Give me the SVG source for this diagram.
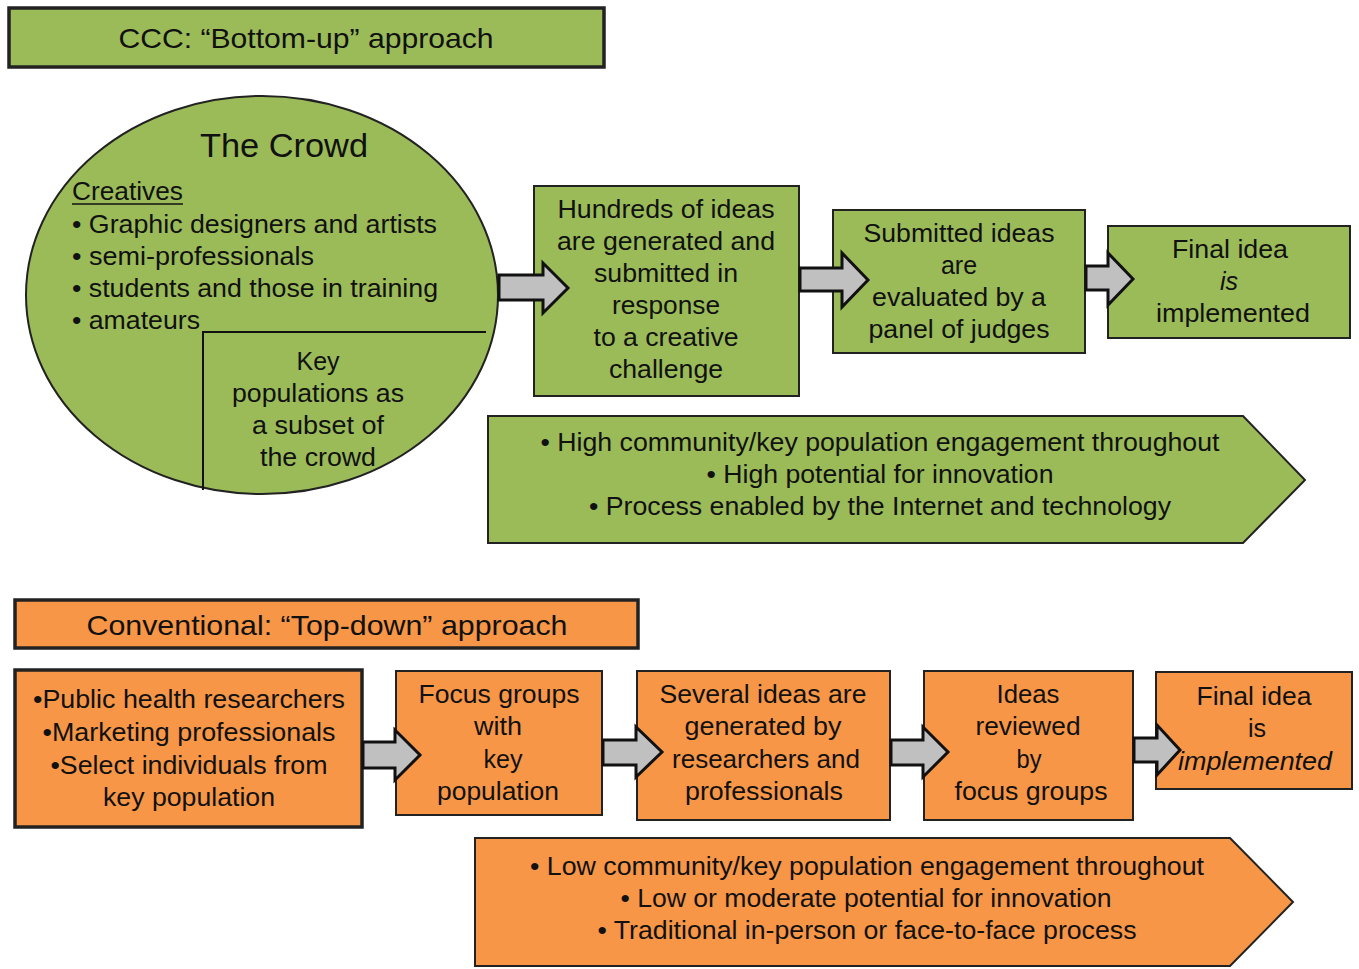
<svg xmlns="http://www.w3.org/2000/svg" width="1359" height="969" viewBox="0 0 1359 969">
<style>
text{font-family:"Liberation Sans",Arial,sans-serif;fill:#111;}
.t{font-size:25px;text-anchor:middle;}
.l{font-size:25px;}
.title{font-size:28px;text-anchor:middle;}
.g{fill:#9BBB59;stroke:#222;stroke-width:2;}
.o{fill:#F79646;stroke:#222;stroke-width:2;}
.hb{stroke-width:3.5;}
.arr{fill:#C0C0C0;stroke:#111;stroke-width:3;stroke-linejoin:miter;}
</style>
<rect width="1359" height="969" fill="#fff"/>

<g id="title-ccc">
<rect class="g hb" x="9" y="8" width="595" height="59"/>
<text class="title" x="306" y="48" textLength="375" lengthAdjust="spacingAndGlyphs">CCC: “Bottom-up” approach</text>
</g>

<g id="crowd">
<ellipse class="g" cx="262" cy="295" rx="236" ry="199" stroke-width="2.5"/>
<text x="284" y="157" font-size="33" text-anchor="middle" textLength="168" lengthAdjust="spacingAndGlyphs">The Crowd</text>
<text class="l" x="72" y="200" textLength="111" lengthAdjust="spacingAndGlyphs">Creatives</text>
<line x1="72" y1="204" x2="183" y2="204" stroke="#111" stroke-width="1.5"/>
<text class="l" x="72" y="233" textLength="365" lengthAdjust="spacingAndGlyphs">• Graphic designers and artists</text>
<text class="l" x="72" y="265" textLength="242" lengthAdjust="spacingAndGlyphs">• semi-professionals</text>
<text class="l" x="72" y="297" textLength="366" lengthAdjust="spacingAndGlyphs">• students and those in training</text>
<text class="l" x="72" y="329" textLength="128" lengthAdjust="spacingAndGlyphs">• amateurs</text>
<path d="M486 332 H203 V490" fill="none" stroke="#111" stroke-width="2"/>
<text class="t" x="318" y="370">Key</text>
<text class="t" x="318" y="402" textLength="172" lengthAdjust="spacingAndGlyphs">populations as</text>
<text class="t" x="318" y="434" textLength="132" lengthAdjust="spacingAndGlyphs">a subset of</text>
<text class="t" x="318" y="466" textLength="116" lengthAdjust="spacingAndGlyphs">the crowd</text>
</g>

<g id="hundreds">
<rect class="g" x="534" y="186" width="265" height="210"/>
<text class="t" x="666" y="218" textLength="217" lengthAdjust="spacingAndGlyphs">Hundreds of ideas</text>
<text class="t" x="666" y="250" textLength="218" lengthAdjust="spacingAndGlyphs">are generated and</text>
<text class="t" x="666" y="282" textLength="144" lengthAdjust="spacingAndGlyphs">submitted in</text>
<text class="t" x="666" y="314" textLength="108" lengthAdjust="spacingAndGlyphs">response</text>
<text class="t" x="666" y="346" textLength="145" lengthAdjust="spacingAndGlyphs">to a creative</text>
<text class="t" x="666" y="378" textLength="114" lengthAdjust="spacingAndGlyphs">challenge</text>
</g>

<g id="submitted">
<rect class="g" x="833" y="210" width="252" height="143"/>
<text class="t" x="959" y="242" textLength="191" lengthAdjust="spacingAndGlyphs">Submitted ideas</text>
<text class="t" x="959" y="274">are</text>
<text class="t" x="959" y="306" textLength="174" lengthAdjust="spacingAndGlyphs">evaluated by a</text>
<text class="t" x="959" y="338" textLength="181" lengthAdjust="spacingAndGlyphs">panel of judges</text>
</g>

<g id="final-ccc">
<rect class="g" x="1108" y="226" width="242" height="112"/>
<text class="t" x="1230" y="258" textLength="116" lengthAdjust="spacingAndGlyphs">Final idea</text>
<text class="t" x="1229" y="290" font-style="italic">is</text>
<text class="t" x="1233" y="322" textLength="154" lengthAdjust="spacingAndGlyphs">implemented</text>
</g>

<g id="summary-ccc">
<polygon class="g" points="488,416 1243,416 1305,480 1243,543 488,543"/>
<text class="t" x="880" y="451" textLength="679" lengthAdjust="spacingAndGlyphs">• High community/key population engagement throughout</text>
<text class="t" x="880" y="483" textLength="347" lengthAdjust="spacingAndGlyphs">• High potential for innovation</text>
<text class="t" x="880" y="515" textLength="582" lengthAdjust="spacingAndGlyphs">• Process enabled by the Internet and technology</text>
</g>

<g id="title-conv">
<rect class="o hb" x="15" y="600" width="623" height="48"/>
<text class="title" x="327" y="635" textLength="481" lengthAdjust="spacingAndGlyphs">Conventional: “Top-down” approach</text>
</g>

<g id="researchers">
<rect class="o hb" x="15" y="670" width="347" height="157"/>
<text class="t" x="189" y="708" textLength="312" lengthAdjust="spacingAndGlyphs">•Public health researchers</text>
<text class="t" x="189" y="741" textLength="293" lengthAdjust="spacingAndGlyphs">•Marketing professionals</text>
<text class="t" x="189" y="774" textLength="277" lengthAdjust="spacingAndGlyphs">•Select individuals from</text>
<text class="t" x="189" y="806" textLength="172" lengthAdjust="spacingAndGlyphs">key population</text>
</g>

<g id="focus">
<rect class="o" x="396" y="671" width="206" height="144"/>
<text class="t" x="499" y="703" textLength="161" lengthAdjust="spacingAndGlyphs">Focus groups</text>
<text class="t" x="498" y="735" textLength="48" lengthAdjust="spacingAndGlyphs">with</text>
<text class="t" x="503" y="768" textLength="39" lengthAdjust="spacingAndGlyphs">key</text>
<text class="t" x="498" y="800" textLength="122" lengthAdjust="spacingAndGlyphs">population</text>
</g>

<g id="several">
<rect class="o" x="637" y="671" width="253" height="149"/>
<text class="t" x="763" y="703" textLength="207" lengthAdjust="spacingAndGlyphs">Several ideas are</text>
<text class="t" x="763" y="735" textLength="157" lengthAdjust="spacingAndGlyphs">generated by</text>
<text class="t" x="766" y="768" textLength="188" lengthAdjust="spacingAndGlyphs">researchers and</text>
<text class="t" x="764" y="800" textLength="158" lengthAdjust="spacingAndGlyphs">professionals</text>
</g>

<g id="ideas">
<rect class="o" x="924" y="671" width="209" height="149"/>
<text class="t" x="1028" y="703" textLength="63" lengthAdjust="spacingAndGlyphs">Ideas</text>
<text class="t" x="1028" y="735" textLength="105" lengthAdjust="spacingAndGlyphs">reviewed</text>
<text class="t" x="1029" y="768" textLength="25" lengthAdjust="spacingAndGlyphs">by</text>
<text class="t" x="1031" y="800" textLength="153" lengthAdjust="spacingAndGlyphs">focus groups</text>
</g>

<g id="final-conv">
<rect class="o" x="1156" y="672" width="196" height="117"/>
<text class="t" x="1254" y="705" textLength="115" lengthAdjust="spacingAndGlyphs">Final idea</text>
<text class="t" x="1257" y="737">is</text>
<text class="t" x="1255" y="770" font-style="italic" textLength="154" lengthAdjust="spacingAndGlyphs">implemented</text>
</g>

<g id="summary-conv">
<polygon class="o" points="475,838 1230,838 1293,902 1230,966 475,966"/>
<text class="t" x="867" y="875" textLength="674" lengthAdjust="spacingAndGlyphs">• Low community/key population engagement throughout</text>
<text class="t" x="866" y="907" textLength="491" lengthAdjust="spacingAndGlyphs">• Low or moderate potential for innovation</text>
<text class="t" x="867" y="939" textLength="539" lengthAdjust="spacingAndGlyphs">• Traditional in-person or face-to-face process</text>
</g>

<g id="connectors">
<polygon class="arr" points="499,275 543,275 543,263 568,288 543,313 543,300 499,300"/>
<polygon class="arr" points="800,268 842,268 842,253 868,280 842,307 842,291 800,291"/>
<polygon class="arr" points="1086,266 1108,266 1108,253 1133,279 1108,305 1108,290 1086,290"/>
<polygon class="arr" points="363,742 395,742 395,730 420,755 395,780 395,768 363,768"/>
<polygon class="arr" points="603,740 636,740 636,727 662,752 636,777 636,765 603,765"/>
<polygon class="arr" points="891,740 923,740 923,727 948,752 923,777 923,765 891,765"/>
<polygon class="arr" points="1134,738 1157,738 1157,725 1180,750 1157,775 1157,762 1134,762"/>
</g>
</svg>
